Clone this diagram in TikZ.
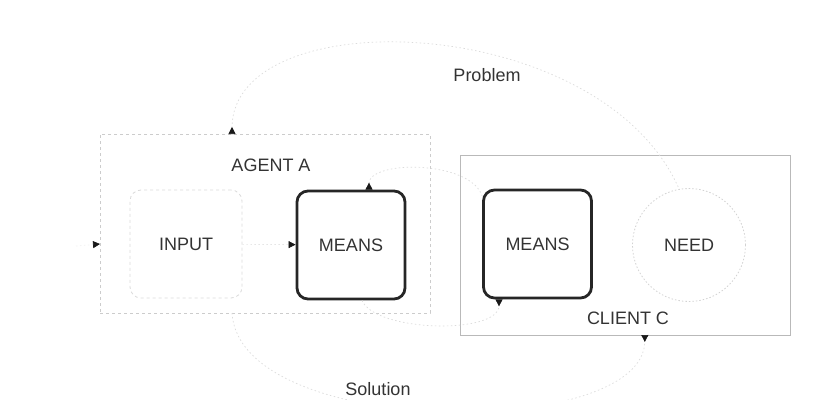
\documentclass[tikz,border=0pt]{standalone}
\usepackage{fontspec}
\setmainfont{Liberation Sans}
\usetikzlibrary{arrows.meta,calc}

\begin{document}
\begin{tikzpicture}[x=1pt,y=-1pt,
  lbl/.style={font=\fontsize{18}{20}\selectfont, text=black!80},
  agentframe/.style={draw=gray!40, line width=0.8pt, dash pattern=on 3pt off 3pt,
    inner sep=0pt, outer sep=0pt},
  clientframe/.style={draw=gray!55, line width=0.8pt, inner sep=0pt, outer sep=0pt},
  inputbox/.style={lbl, draw=gray!30, line width=0.8pt, dash pattern=on 3pt off 3pt,
    rounded corners=11pt, minimum width=112pt, minimum height=108pt, inner sep=0pt},
  meansbox/.style={lbl, draw=black!85, line width=2.8pt, rounded corners=11pt,
    minimum width=108pt, minimum height=108pt, inner sep=0pt},
  needcircle/.style={lbl, circle, draw=gray!35, line width=0.8pt,
    dash pattern=on 1.5pt off 2pt, minimum size=113pt, inner sep=0pt},
  tip/.style={-{Triangle[length=7pt,width=7pt,color=black!90]}},
  rtip/.style={-{Triangle[length=7pt,width=7pt,reversed,color=black!90]}},
  rtipstart/.style={{Triangle[length=7pt,width=7pt,reversed,color=black!90]}-},
  faintline/.style={draw=gray!20, line width=0.7pt, dash pattern=on 1.5pt off 2.5pt},
  arcline/.style={draw=gray!28, line width=0.7pt, dash pattern=on 1.5pt off 2.5pt}
]
\useasboundingbox (0,0) rectangle (816,399);

% frames of the two parties
\node[agentframe, minimum width=330pt, minimum height=179pt] (agent) at (265,223.5) {};
\node[clientframe, minimum width=330pt, minimum height=180pt] (client) at (625,245) {};
\node[lbl] (agentlbl) at (271,165) {AGENT A};
\node[lbl] (clientlbl) at (628,318) {CLIENT C};

% inner elements
\node[inputbox] (input) at (186,244) {INPUT};
\node[meansbox] (meansA) at (351,245) {MEANS};
\node[meansbox] (meansC) at (537.5,244) {MEANS};
\node[needcircle] (need) at (689,245) {NEED};

% arc labels
\node[lbl] (problem) at (487,75) {Problem};
\node[lbl] (solution) at (378,389) {Solution};

% incoming flow and input to means
\coordinate (inflow) at (76,246);
\draw[faintline, draw=gray!12, tip] (inflow) -- (agent.west |- input);
\draw[faintline, tip] (input) -- (meansA);

% exchange between the two means
\draw[arcline, rtipstart] ([xshift=18pt]meansA.north) .. controls (369,160) and (470,160) .. (meansC.139);
\draw[arcline, rtip] ([xshift=11pt]meansA.south) .. controls (375,332) and (499,335) .. ([xshift=-38.5pt]meansC.south);

% problem and solution loops
\draw[arcline, rtipstart] ($(agent.north west)!0.4!(agent.north east)$)
  .. controls (232,0) and (600,10) .. (need.100);
\draw[arcline, rtip] ($(agent.south west)!0.4!(agent.south east)$)
  .. controls (240,440) and (645,440) .. ($(client.south west)!0.56!(client.south east)$);
\end{tikzpicture}
\end{document}
